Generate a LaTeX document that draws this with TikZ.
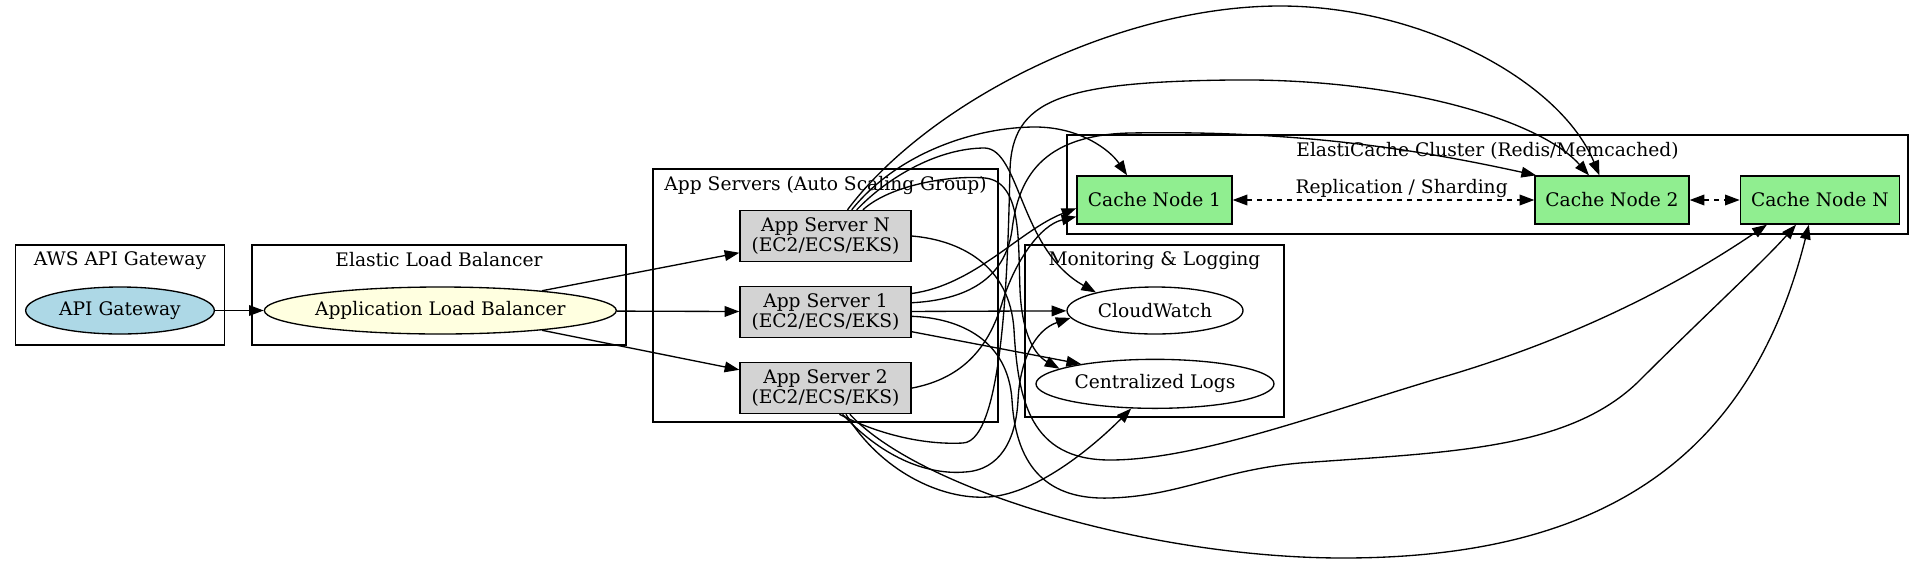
\documentclass[tikz,border=0pt]{standalone}
\usepackage{fontspec}
\setmainfont{DejaVu Serif}
\usepackage{tikz}
\usetikzlibrary{arrows.meta,positioning,shapes.geometric}
\definecolor{gwblue}{HTML}{ADD8E6}
\definecolor{albyellow}{HTML}{FFFFE0}
\definecolor{srvgray}{HTML}{D3D3D3}
\definecolor{cachegreen}{HTML}{90EE90}
\newcommand{\ovaltext}[1]{\makebox[0pt]{#1}}
\tikzset{>={Triangle[length=11pt,width=8pt]}}
\tikzstyle{arrow}   = [->,
                       line width=1pt]
\tikzstyle{twoway}  = [<->,
                       line width=1pt,
                       dash pattern=on 3.75pt off 3.75pt]
\tikzstyle{cluster} = [draw,
                       rectangle,
                       line width=1pt,
                       inner sep=0pt]
\tikzstyle{clustertitle} = [anchor=north,
                            yshift=-5.5pt,
                            inner sep=0pt]
\tikzstyle{oval}    = [draw,
                       ellipse,
                       line width=1pt,
                       inner sep=0pt,
                       minimum height=35.25pt]
\tikzstyle{server}  = [draw,
                       rectangle,
                       line width=1pt,
                       fill=srvgray,
                       align=center,
                       minimum width=128.25pt,
                       minimum height=38.25pt]
\tikzstyle{cache}   = [draw,
                       rectangle,
                       line width=1pt,
                       fill=cachegreen,
                       minimum height=36pt]

\begin{document}
\begin{tikzpicture}[x=0.75pt, y=-0.75pt, font=\fontsize{14}{15}\selectfont]
  \useasboundingbox (0,0) rectangle (1924,565);

  % Clusters
  \node[cluster, minimum width=156.4pt, minimum height=75pt,
    label={[clustertitle]north:AWS API Gateway}] (gwbox) at (120,295) {};
  \node[cluster, minimum width=280.5pt, minimum height=75pt,
    label={[clustertitle]north:Elastic Load Balancer}] (elbbox) at (439,295) {};
  \node[cluster, minimum width=258.75pt, minimum height=189.75pt,
    label={[clustertitle]north:App Servers (Auto Scaling Group)}] (appbox) at (825.5,295.5) {};
  \node[cluster, minimum width=630.75pt, minimum height=74.25pt,
    label={[clustertitle]north:ElastiCache Cluster (Redis/Memcached)}] (cachebox) at (1487.5,184.5) {};
  \node[cluster, minimum width=194.25pt, minimum height=129pt,
    label={[clustertitle]north:Monitoring \& Logging}] (monbox) at (1154.5,331) {};

  % Nodes
  \node[oval, fill=gwblue, minimum width=141.5pt] (gw) at (120,310.5) {\ovaltext{API Gateway}};
  \node[oval, fill=albyellow, minimum width=264pt, right=36.5pt of gw] (alb) {\ovaltext{Application Load Balancer}};

  \node[server] (srvN) at (825.5,236) {App Server N\\(EC2/ECS/EKS)};
  \node[server, below=17.6pt of srvN] (srv1) {App Server 1\\(EC2/ECS/EKS)};
  \node[server, below=18pt of srv1] (srv2) {App Server 2\\(EC2/ECS/EKS)};

  \node[cache, minimum width=116.25pt] (cache1) at (1154.5,200) {Cache Node 1};
  \node[cache, minimum width=115.5pt] (cache2) at (1612,200) {Cache Node 2};
  \node[cache, minimum width=119.25pt, right=37.5pt of cache2] (cacheN) {Cache Node N};

  \node[oval, minimum width=132pt] (cw) at (1155,310.5) {\ovaltext{CloudWatch}};
  \node[oval, minimum width=178.5pt, minimum height=36.75pt, below=18pt of cw] (logs) {\ovaltext{Centralized Logs}};

  % Edges
  \draw[arrow] (gw) -- (alb);
  \draw[arrow] (alb.11) -- (srvN.191);
  \draw[arrow] (alb) -- (srv1);
  \draw[arrow] (alb.-11) -- (srv2.168);

  % App Server N
  \draw[arrow] (srvN.50) .. controls (930,100) and (1120,6) .. (1280,6)
    .. controls (1420,6) and (1560,80) .. (cache2.117);
  \draw[arrow] (srvN.45) .. controls (900,150) and (980,127) .. (1035,127)
    .. controls (1080,127) and (1110,150) .. (cache1.138);
  \draw[arrow] (srvN.40) .. controls (890,175) and (940,148) .. (985,148)
    .. controls (1020,150) and (1020,250) .. (cw.163);
  \draw[arrow] (srvN.35) .. controls (890,185) and (950,175) .. (985,178)
    .. controls (1022,182) and (1018,240) .. (1020,290)
    .. controls (1022,335) and (1035,355) .. (logs.171);
  \draw[arrow] (srvN.east) .. controls (960,240) and (1010,265) .. (1014,330)
    .. controls (1018,400) and (1030,460) .. (1110,460)
    .. controls (1200,460) and (1330,410) .. (1450,375)
    .. controls (1600,330) and (1700,270) .. (cacheN.205);

  % App Server 1
  \draw[arrow] (srv1.12) .. controls (975,285) and (1020,230) .. (cache1.186);
  \draw[arrow] (srv1.6) .. controls (965,300) and (1005,280) .. (1012,230)
    .. controls (1018,180) and (1040,135) .. (1130,133)
    .. controls (1300,130) and (1420,150) .. (cache2.162);
  \draw[arrow] (srv1) -- (cw);
  \draw[arrow] (srv1.-13) -- (logs.165);
  \draw[arrow] (srv1.-3) .. controls (960,318) and (1008,340) .. (1012,400)
    .. controls (1016,470) and (1050,500) .. (1110,498)
    .. controls (1180,496) and (1220,470) .. (1300,463)
    .. controls (1450,452) and (1570,450) .. (1640,380)
    .. controls (1700,320) and (1765,260) .. (cacheN.226);

  % App Server 2
  \draw[arrow] (srv2.east) .. controls (965,378) and (990,345) .. (1003,300)
    .. controls (1015,262) and (1040,225) .. (cache1.192);
  \draw[arrow] (srv2.-62) .. controls (880,435) and (925,445) .. (963,443)
    .. controls (1005,441) and (1008,250) .. (1010,170)
    .. controls (1012,100) and (1060,82) .. (1231,80)
    .. controls (1400,78) and (1540,120) .. (cache2.133);
  \draw[arrow] (srv2.-57) .. controls (885,460) and (930,475) .. (965,472)
    .. controls (1000,470) and (1016,440) .. (1018,400)
    .. controls (1020,360) and (1035,330) .. (cw.185);
  \draw[arrow] (srv2.-52) .. controls (880,470) and (940,500) .. (988,497)
    .. controls (1040,494) and (1100,440) .. (logs.226);
  \draw[arrow] (srv2.-47) .. controls (920,490) and (1150,558) .. (1343,558)
    .. controls (1600,558) and (1750,460) .. (cacheN.246);

  % Replication
  \draw[twoway] (cache1) -- node[pos=0.56, above, inner sep=1.5pt] (repl) {Replication / Sharding} (cache2);
  \draw[twoway] (cache2) -- (cacheN);

\end{tikzpicture}
\end{document}
